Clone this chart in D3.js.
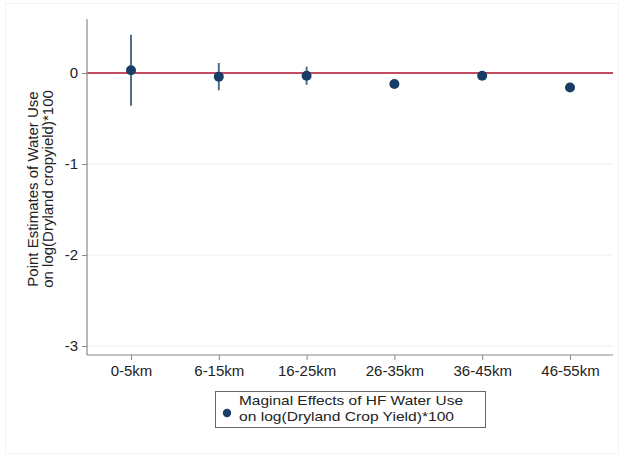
<!DOCTYPE html>
<html>
<head>
<meta charset="utf-8">
<script src="https://cdn.jsdelivr.net/npm/d3@7"></script>
<style>
  html, body { margin: 0; padding: 0; background: #fff; }
  svg { display: block; font-family: "Liberation Sans", Arial, Helvetica, sans-serif; }
</style>
</head>
<body>
<svg id="chart" width="621" height="456"></svg>
<script>
const categories = ["0-5km", "6-15km", "16-25km", "26-35km", "36-45km", "46-55km"];
const estimates  = [0.03, -0.04, -0.03, -0.12, -0.03, -0.16];
const ciLower    = [-0.36, -0.19, -0.13, -0.14, -0.05, -0.18];
const ciUpper    = [0.42, 0.11, 0.07, -0.10, -0.01, -0.14];
const yTicks     = [0, -1, -2, -3];
const yTitle     = ["Point Estimates of Water Use", "on log(Dryland cropyield)*100"];
const legendText = ["Maginal Effects of HF Water Use", "on log(Dryland Crop Yield)*100"];

const svg = d3.select("#chart");
const W = 621, H = 456;
const plot = { left: 87, right: 613, top: 19, bottom: 355 };
const dotColor = "#1a3d66";
const barColor = "#4f6f8f";

// faint outer frame
svg.append("rect").attr("x", 5.5).attr("y", 3.5).attr("width", W - 8).attr("height", H - 6)
  .attr("fill", "none").attr("stroke", "#f0f2f4");

const x = d3.scalePoint().domain(categories).range([131, 570]);
const y = d3.scaleLinear().domain([-3, 0]).range([346, 73]);

// gridlines
svg.append("g").selectAll("line").data(yTicks.filter(d => d !== 0)).join("line")
  .attr("x1", plot.left).attr("x2", plot.right)
  .attr("y1", d => y(d)).attr("y2", d => y(d))
  .attr("stroke", "#eeeeee").attr("stroke-width", 1);

// zero reference line
svg.append("line")
  .attr("x1", plot.left).attr("x2", plot.right)
  .attr("y1", y(0)).attr("y2", y(0))
  .attr("stroke", "#b0102e").attr("stroke-width", 1.5);

// y axis
const yAxis = d3.axisLeft(y).tickValues(yTicks).tickSize(5).tickPadding(4).tickFormat(d3.format("d"));
const gy = svg.append("g").attr("transform", `translate(${plot.left},0)`).call(yAxis);
gy.select(".domain").attr("d", `M0,${plot.top}V${plot.bottom}`).attr("stroke", "#888").attr("stroke-width", 1.2);
gy.selectAll(".tick line").attr("stroke", "#888");
gy.selectAll(".tick text").attr("font-size", 15).attr("fill", "#222")
  .text(d => d === 0 ? "0" : "-" + Math.abs(d));

// x axis
const xAxis = d3.axisBottom(x).tickSize(5).tickPadding(5);
const gx = svg.append("g").attr("transform", `translate(0,${plot.bottom})`).call(xAxis);
gx.select(".domain").attr("d", `M${plot.left},0H${plot.right}`).attr("stroke", "#888").attr("stroke-width", 1.2);
gx.selectAll(".tick line").attr("stroke", "#888");
gx.selectAll(".tick text").attr("font-size", 15).attr("fill", "#222");

// error bars
svg.append("g").selectAll("line").data(categories).join("line")
  .attr("x1", d => x(d)).attr("x2", d => x(d))
  .attr("y1", (d, i) => y(ciUpper[i])).attr("y2", (d, i) => y(ciLower[i]))
  .attr("stroke", barColor).attr("stroke-width", 2);

// points
svg.append("g").selectAll("circle").data(categories).join("circle")
  .attr("cx", d => x(d)).attr("cy", (d, i) => y(estimates[i]))
  .attr("r", 5).attr("fill", dotColor);

// y title
const yt = svg.append("text")
  .attr("transform", `translate(38,189) rotate(-90)`)
  .attr("text-anchor", "middle").attr("font-size", 15).attr("fill", "#222");
yt.selectAll("tspan").data(yTitle).join("tspan")
  .attr("x", 0).attr("dy", (d, i) => i === 0 ? 0 : 15).text(d => d);

// legend
const legendWidths = [224, 215];
const lg = svg.append("g");
lg.append("rect").attr("x", 215.5).attr("y", 391.5).attr("width", 270).attr("height", 36)
  .attr("fill", "#fff").attr("stroke", "#666").attr("stroke-width", 1);
lg.append("circle").attr("cx", 227).attr("cy", 413).attr("r", 4.2).attr("fill", dotColor);
lg.selectAll("text.leg").data(legendText).join("text").attr("class", "leg")
  .attr("x", 239).attr("y", (d, i) => 405 + i * 15.5)
  .attr("textLength", (d, i) => legendWidths[i]).attr("lengthAdjust", "spacingAndGlyphs")
  .attr("font-size", 13.5).attr("fill", "#222").text(d => d);
</script>
</body>
</html>
